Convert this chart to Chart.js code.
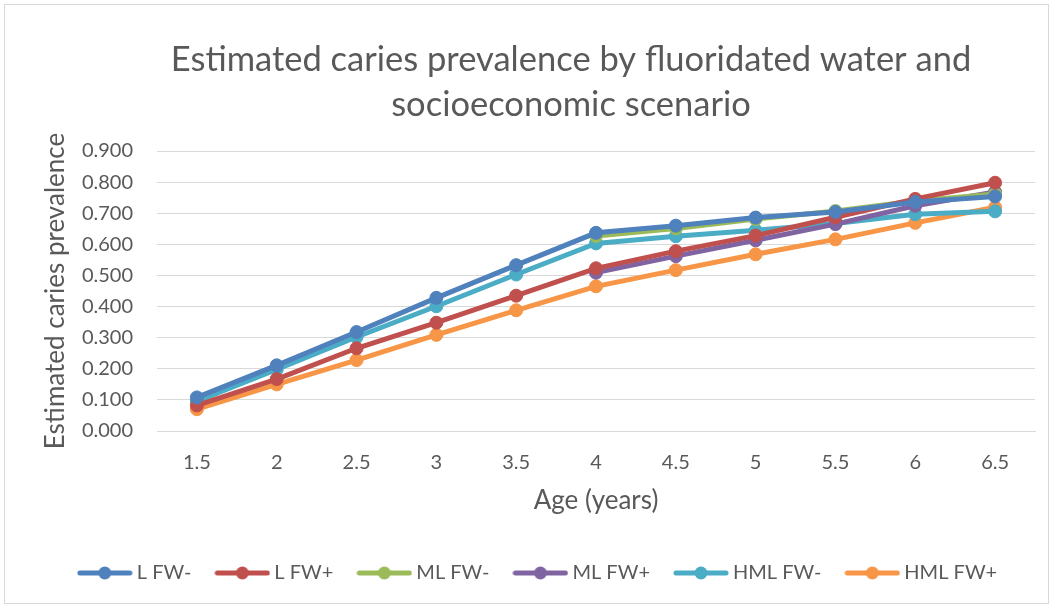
<!DOCTYPE html>
<html>
<head>
<meta charset="utf-8">
<title>Estimated caries prevalence</title>
<script src="https://cdn.jsdelivr.net/npm/chart.js@4/dist/chart.umd.min.js"></script>
<style>
  html, body { margin: 0; padding: 0; background: #fff; }
  canvas { display: block; }
</style>
</head>
<body>
<canvas id="cariesChart" width="1053" height="608"></canvas>
<script>
// Age groups on the x axis
const ages = ['1.5', '2', '2.5', '3', '3.5', '4', '4.5', '5', '5.5', '6', '6.5'];

// Estimated prevalence per scenario (ML series start at age 4)
const lFwMinus   = [0.108, 0.211, 0.318, 0.428, 0.533, 0.637, 0.660, 0.686, 0.704, 0.736, 0.754];
const lFwPlus    = [0.082, 0.167, 0.266, 0.348, 0.435, 0.523, 0.578, 0.628, 0.687, 0.746, 0.798];
const mlFwMinus  = [null, null, null, null, null, 0.627, 0.651, 0.681, 0.707, 0.739, 0.762];
const mlFwPlus   = [null, null, null, null, null, 0.509, 0.562, 0.613, 0.665, 0.724, 0.768];
const hmlFwMinus = [0.096, 0.198, 0.302, 0.401, 0.503, 0.603, 0.626, 0.645, 0.667, 0.697, 0.706];
const hmlFwPlus  = [0.070, 0.150, 0.228, 0.309, 0.388, 0.465, 0.517, 0.568, 0.616, 0.669, 0.719];

const seriesNames = ['L FW-', 'L FW+', 'ML FW-', 'ML FW+', 'HML FW-', 'HML FW+'];
const seriesValues = [lFwMinus, lFwPlus, mlFwMinus, mlFwPlus, hmlFwMinus, hmlFwPlus];
const seriesColors = ['#4f81bd', '#c0504d', '#9bbb59', '#8064a2', '#4bacc6', '#f79646'];

const yTicks = [0, 0.1, 0.2, 0.3, 0.4, 0.5, 0.6, 0.7, 0.8, 0.9];

const titleLines = ['Estimated caries prevalence by fluoridated water and', 'socioeconomic scenario'];

const textColor = '#595959';
const gridColor = '#d9d9d9';
const fontFamily = 'Lato, "Open Sans", sans-serif';

// little line-with-marker swatch for the legend
function makeSwatch(color) {
    const c = document.createElement('canvas');
    c.width = 56;
    c.height = 16;
    const g = c.getContext('2d');
    g.strokeStyle = color;
    g.lineWidth = 5;
    g.lineCap = 'round';
    g.beginPath();
    g.moveTo(3, 8);
    g.lineTo(53, 8);
    g.stroke();
    g.fillStyle = color;
    g.beginPath();
    g.arc(28, 8, 6.5, 0, Math.PI * 2);
    g.fill();
    return c;
}
const swatches = seriesColors.map(makeSwatch);

// white background with a thin frame round the whole chart
const framePlugin = {
    id: 'frame',
    beforeDraw(chart) {
        const ctx = chart.ctx;
        ctx.save();
        ctx.fillStyle = '#fff';
        ctx.fillRect(0, 0, chart.width, chart.height);
        ctx.strokeStyle = gridColor;
        ctx.lineWidth = 1;
        ctx.strokeRect(4.5, 4.5, chart.width - 9, chart.height - 9);
        ctx.restore();
    }
};

// two-line heading, centred a little right of the canvas middle
const headingPlugin = {
    id: 'heading',
    afterDraw(chart) {
        const ctx = chart.ctx;
        ctx.save();
        ctx.fillStyle = textColor;
        ctx.font = '34.5px ' + fontFamily;
        ctx.textAlign = 'center';
        ctx.textBaseline = 'middle';
        titleLines.forEach((line, i) => ctx.fillText(line, 571, 60 + i * 45));
        ctx.restore();
    }
};

const datasets = seriesNames.map((name, i) => ({
    label: name,
    data: seriesValues[i],
    borderColor: seriesColors[i],
    backgroundColor: seriesColors[i],
    pointBackgroundColor: seriesColors[i],
    pointBorderColor: seriesColors[i],
    borderWidth: 5,
    pointRadius: 6.5,
    pointBorderWidth: 1,
    pointHoverRadius: 6.5,
    tension: 0,
    fill: false
}));

const ctx = document.getElementById('cariesChart').getContext('2d');
const cariesChart = new Chart(ctx, {
    type: 'line',
    data: {
        labels: ages,
        datasets: datasets
    },
    plugins: [framePlugin, headingPlugin],
    options: {
        responsive: false,
        animation: false,
        layout: {
            padding: { left: 45, right: 18, top: 151, bottom: 15 }
        },
        plugins: {
            title: { display: false },
            legend: {
                position: 'bottom',
                labels: {
                    color: textColor,
                    font: { family: fontFamily, size: 20 },
                    usePointStyle: true,
                    pointStyleWidth: 44,
                    padding: 29,
                    generateLabels(chart) {
                        return chart.data.datasets.map((ds, i) => ({
                            text: ds.label,
                            pointStyle: swatches[i],
                            fillStyle: ds.borderColor,
                            strokeStyle: ds.borderColor,
                            lineWidth: 0,
                            fontColor: textColor,
                            hidden: false,
                            datasetIndex: i
                        }));
                    }
                }
            },
            tooltip: { enabled: false }
        },
        scales: {
            x: {
                type: 'category',
                offset: true,
                grid: { display: false, drawTicks: false },
                border: { display: true, color: gridColor },
                ticks: {
                    color: textColor,
                    font: { family: fontFamily, size: 20 },
                    padding: 20,
                    maxRotation: 0
                },
                title: {
                    display: true,
                    text: 'Age (years)',
                    color: textColor,
                    font: { family: fontFamily, size: 26, lineHeight: 1.2 },
                    padding: { top: 2, bottom: 18 }
                },
                afterFit(scale) { scale.height = 103; }
            },
            y: {
                min: 0,
                max: 0.9,
                grid: { color: gridColor, lineWidth: 1, drawTicks: false },
                border: { display: false },
                afterBuildTicks(scale) {
                    scale.ticks = yTicks.map(v => ({ value: v }));
                },
                ticks: {
                    color: textColor,
                    font: { family: fontFamily, size: 20 },
                    padding: 24,
                    callback: value => Number(value).toFixed(3)
                },
                title: {
                    display: true,
                    text: 'Estimated caries prevalence',
                    color: textColor,
                    font: { family: fontFamily, size: 26, lineHeight: 1.2 },
                    padding: { top: -5, bottom: 0 }
                },
                afterFit(scale) { scale.width = 112; }
            }
        }
    }
});
</script>
</body>
</html>
